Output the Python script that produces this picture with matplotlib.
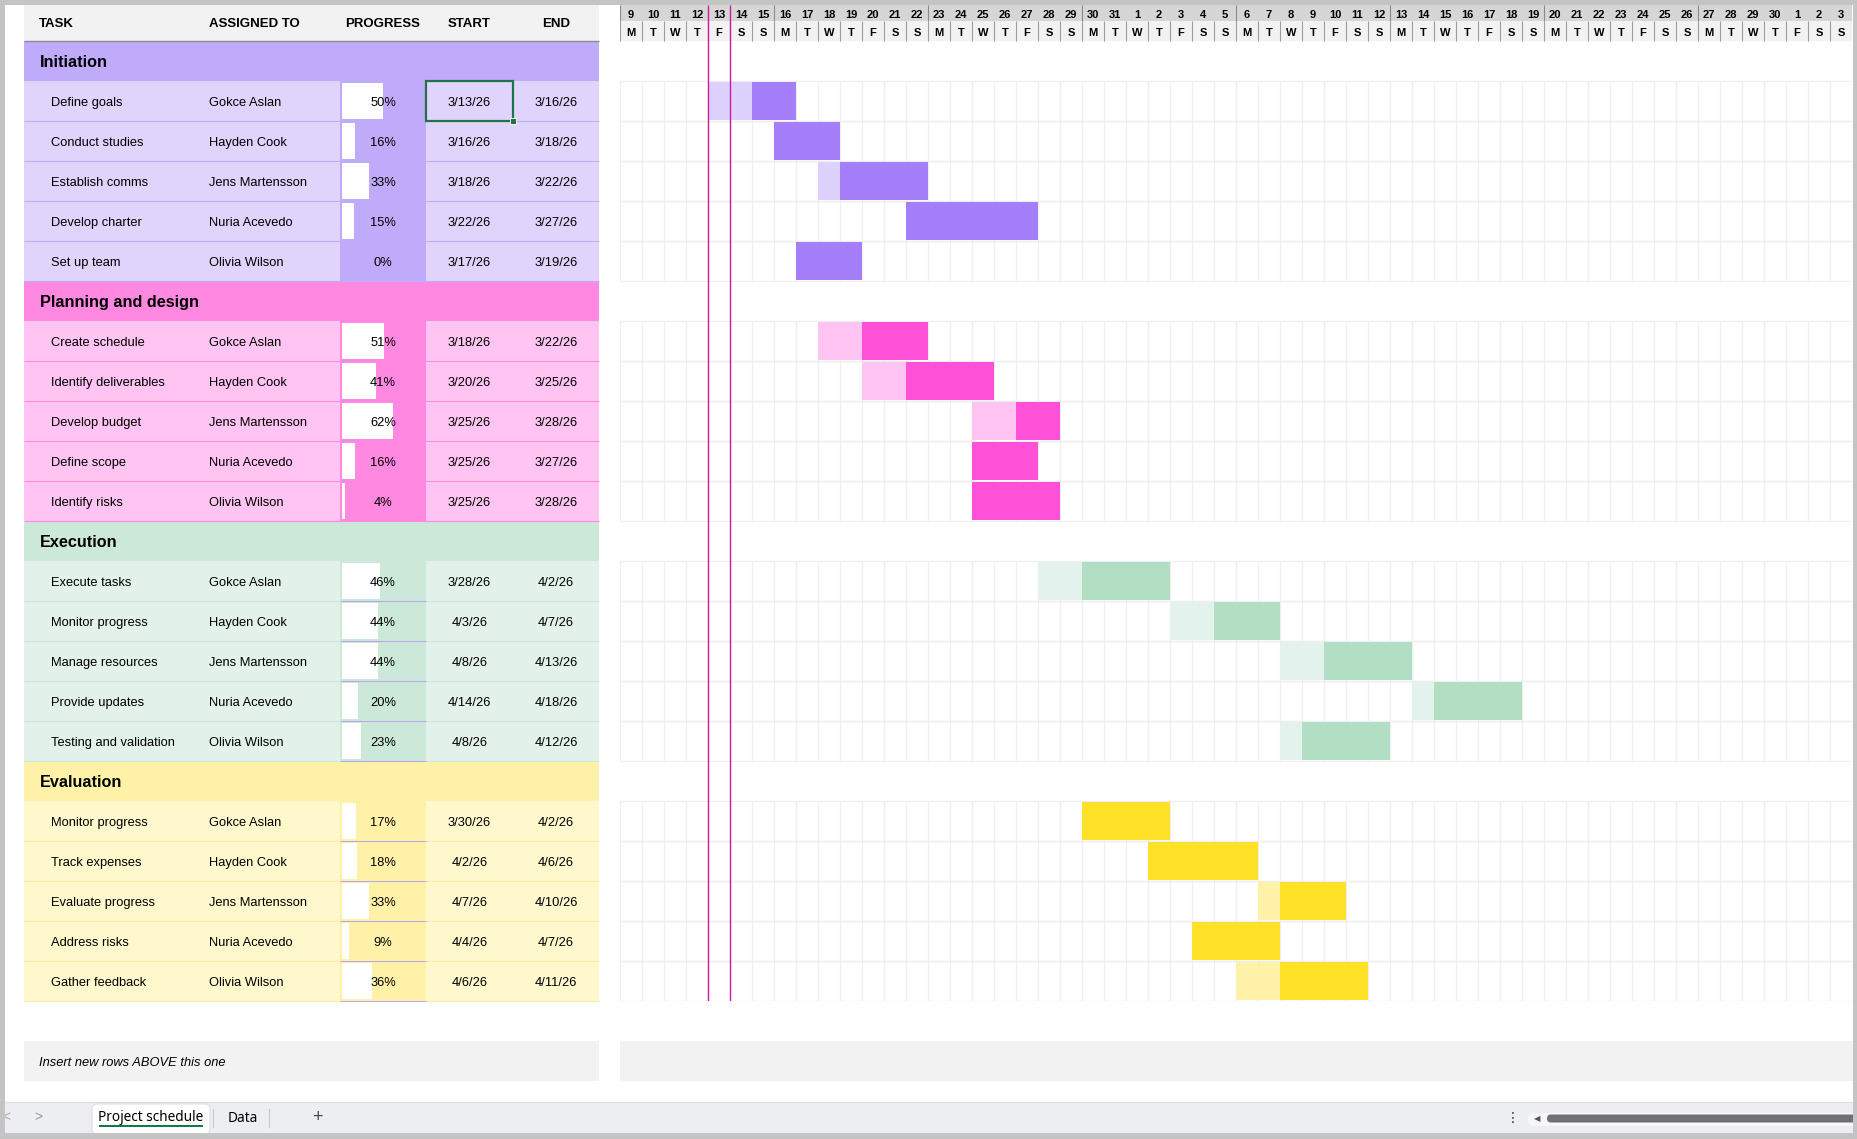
import numpy as np
import pandas as pd
import matplotlib
matplotlib.use('Agg')
import matplotlib.pyplot as plt
import matplotlib.dates as mdates
from matplotlib.patches import Rectangle, FancyBboxPatch

plt.rcParams['font.family'] = ['Liberation Sans', 'DejaVu Sans']

# Schedule data
groups = ['Initiation', 'Planning and design', 'Execution', 'Evaluation']
task_group = [0, 0, 0, 0, 0, 1, 1, 1, 1, 1, 2, 2, 2, 2, 2, 3, 3, 3, 3, 3]
tasks = ['Define goals', 'Conduct studies', 'Establish comms', 'Develop charter', 'Set up team',
         'Create schedule', 'Identify deliverables', 'Develop budget', 'Define scope', 'Identify risks',
         'Execute tasks', 'Monitor progress', 'Manage resources', 'Provide updates', 'Testing and validation',
         'Monitor progress', 'Track expenses', 'Evaluate progress', 'Address risks', 'Gather feedback']
assigned = ['Gokce Aslan', 'Hayden Cook', 'Jens Martensson', 'Nuria Acevedo', 'Olivia Wilson'] * 4
progress = [50, 16, 33, 15, 0,
            51, 41, 62, 16, 4,
            46, 44, 44, 20, 23,
            17, 18, 33, 9, 36]
start_dates = ['3/13/26', '3/16/26', '3/18/26', '3/22/26', '3/17/26',
               '3/18/26', '3/20/26', '3/25/26', '3/25/26', '3/25/26',
               '3/28/26', '4/3/26', '4/8/26', '4/14/26', '4/8/26',
               '3/30/26', '4/2/26', '4/7/26', '4/4/26', '4/6/26']
end_dates = ['3/16/26', '3/18/26', '3/22/26', '3/27/26', '3/19/26',
             '3/22/26', '3/25/26', '3/28/26', '3/27/26', '3/28/26',
             '4/2/26', '4/7/26', '4/13/26', '4/18/26', '4/12/26',
             '4/2/26', '4/6/26', '4/10/26', '4/7/26', '4/11/26']
timeline_start = '3/9/26'
n_days = 56
today = '3/13/26'

# Colours per group
head_colors = ['#c0aafa', '#ff88e0', '#cce8d8', '#fff2a8']
row_colors = ['#e0d4fd', '#ffc4f2', '#e2f2ea', '#fff8cc']
bar_dark = ['#a57ffa', '#ff50d8', '#b2dfc4', '#ffe128']
bar_light = ['#ddd1fd', '#ffc4f2', '#e3f2ec', '#fff2a8']
line_colors = ['#c0aafa', '#ff88e0', '#cce8d8', '#fbeaa0']

W, H = 1858, 1139
ROW_H = 40
TOP = 41
TX0, TX1 = 24, 599
PX0, PX1 = 340, 426
SX1 = 513
GX0, GX1 = 620, 1852

fig = plt.figure(figsize=(W / 100, H / 100), dpi=100)
ax = fig.add_axes([0, 0, 1, 1])
ax.set_xlim(0, W)
ax.set_ylim(H, 0)
ax.axis('off')


def rect(x0, y0, x1, y1, color, z=1):
    ax.add_patch(Rectangle((x0, y0), x1 - x0, y1 - y0, facecolor=color, edgecolor='none', zorder=z))


def hline(y, x0, x1, color, lw=0.75, z=2):
    ax.plot([x0, x1], [y, y], color=color, lw=lw, zorder=z, solid_capstyle='butt')


# Table header
rect(TX0, 5, TX1, TOP, '#f2f2f2')
hline(TOP, TX0, TX1, '#8c8c8c', lw=1)
hdr = dict(fontsize=9.5, weight='bold', va='baseline', zorder=5)
ax.text(39, 27, 'TASK', ha='left', **hdr)
ax.text(209, 27, 'ASSIGNED TO', ha='left', **hdr)
ax.text((PX0 + PX1) / 2, 27, 'PROGRESS', ha='center', **hdr)
ax.text((PX1 + SX1) / 2, 27, 'START', ha='center', **hdr)
ax.text((SX1 + TX1) / 2, 27, 'END', ha='center', **hdr)

# Gantt axes, x in dates
d0 = mdates.date2num(pd.to_datetime(timeline_start, format='%m/%d/%y'))
days = pd.date_range(pd.to_datetime(timeline_start, format='%m/%d/%y'), periods=n_days)
axg = fig.add_axes([GX0 / W, 1 - 1001 / H, (GX1 - GX0) / W, (1001 - 5) / H])
axg.set_xlim(d0, d0 + n_days)
axg.set_ylim(1001, 5)
axg.axis('off')
axg.patch.set_alpha(0)

# Date header
axg.add_patch(Rectangle((d0, 5), n_days, 16, facecolor='#d6d6d6', edgecolor='none'))
axg.add_patch(Rectangle((d0, 21), n_days, 20, facecolor='#f2f2f2', edgecolor='none'))
xs = d0 + np.arange(n_days + 1)
axg.vlines(xs, 21, 41, color='#9e9e9e', lw=0.8)
for d in days:
    x = mdates.date2num(d)
    if d.weekday() == 0:
        axg.vlines(x, 5, 21, color='#8a8a8a', lw=0.8)
    axg.text(x + 0.5, 17.5, str(d.day), ha='center', va='baseline', fontsize=8, weight='bold')
    axg.text(x + 0.5, 35.5, 'MTWTFSS'[d.weekday()], ha='center', va='baseline', fontsize=8, weight='bold')

# Rows
starts = pd.to_datetime(start_dates, format='%m/%d/%y')
ends = pd.to_datetime(end_dates, format='%m/%d/%y')
row = 0
for g, name in enumerate(groups):
    top = TOP + row * ROW_H
    rect(TX0, top, TX1, top + ROW_H, head_colors[g])
    ax.text(40, top + 26, name, fontsize=11.7, weight='bold', va='baseline', zorder=5)
    row += 1
    for i in [k for k in range(len(tasks)) if task_group[k] == g]:
        top = TOP + row * ROW_H
        rect(TX0, top, PX0, top + ROW_H, row_colors[g])
        rect(PX0, top, PX1, top + ROW_H, head_colors[g])
        rect(PX1, top, TX1, top + ROW_H, row_colors[g])
        hline(top + ROW_H, TX0, TX1, line_colors[g])
        if g >= 2:
            hline(top + ROW_H, PX0, PX1, '#b9a8ec', z=3)
        # progress data bar
        if progress[i] > 0:
            rect(PX0 + 2, top + 2, PX0 + 2 + 82 * progress[i] / 100, top + ROW_H - 2, 'white', z=2)
        yb = top + 25
        txt = dict(fontsize=9.3, va='baseline', zorder=5)
        ax.text(51, yb, tasks[i], ha='left', **txt)
        ax.text(209, yb, assigned[i], ha='left', **txt)
        ax.text((PX0 + PX1) / 2, yb, f'{progress[i]}%', ha='center', **txt)
        ax.text((PX1 + SX1) / 2, yb, start_dates[i], ha='center', **txt)
        ax.text((SX1 + TX1) / 2, yb, end_dates[i], ha='center', **txt)

        # gantt grid for this row
        axg.vlines(xs, top, top + ROW_H, color='#efefef', lw=0.9, zorder=1)
        axg.hlines([top, top + ROW_H], d0, d0 + n_days, color='#efefef', lw=0.9, zorder=1)
        s = mdates.date2num(starts[i])
        dur = (ends[i] - starts[i]).days + 1
        done = dur * progress[i] // 100
        if done > 0:
            axg.barh(top + 0.6, done, left=s, height=ROW_H - 1.2, align='edge', color=bar_light[g], zorder=2)
        axg.barh(top + 0.6, dur - done, left=s + done, height=ROW_H - 1.2, align='edge', color=bar_dark[g], zorder=2)
        row += 1

# Today markers
t = mdates.date2num(pd.to_datetime(today, format='%m/%d/%y'))
axg.vlines([t, t + 1], 5, 1001, color='#d0189e', lw=1, zorder=4)

# Selected cell
ax.add_patch(Rectangle((PX1, TOP + ROW_H), SX1 - PX1, ROW_H, facecolor='none',
                       edgecolor='#217346', lw=1.6, zorder=6))
ax.add_patch(Rectangle((SX1 - 3, TOP + 2 * ROW_H - 3), 6, 6, facecolor='#217346',
                       edgecolor='white', lw=0.6, zorder=7))

# Insert row
rect(TX0, 1041, TX1, 1081, '#f2f2f2')
rect(GX0, 1041, 1853, 1081, '#f2f2f2')
ax.text(39, 1066, 'Insert new rows ABOVE this one', fontsize=9.3, style='italic', va='baseline', zorder=5)

# Sheet tab bar
rect(5, 1102, 1853, 1133, '#eceef1')
hline(1102, 5, 1853, '#dcdcdc')
ax.add_patch(FancyBboxPatch((92, 1104), 118, 30, boxstyle='round,pad=0,rounding_size=5',
                            facecolor='white', edgecolor='#d8d8d8', lw=0.6, zorder=2))
ax.text(151, 1121, 'Project schedule', ha='center', va='baseline', fontsize=9.8,
        family=['Noto Sans', 'DejaVu Sans'], weight='semibold', zorder=5)
rect(99, 1125, 203, 1127, '#107c41', z=5)
ax.text(243, 1122.5, 'Data', ha='center', va='baseline', fontsize=9.8, family=['Noto Sans', 'DejaVu Sans'], zorder=5)
ax.plot([213, 213], [1109, 1127], color='#c8c8c8', lw=0.8, zorder=5)
ax.plot([269, 269], [1109, 1127], color='#c8c8c8', lw=0.8, zorder=5)
ax.text(317, 1117, '+', ha='center', va='center', fontsize=13, color='#444444', zorder=5)
ax.text(6, 1117, '<', ha='center', va='center', fontsize=10, color='#aaaaaa', zorder=5)
ax.text(38, 1117, '>', ha='center', va='center', fontsize=10, color='#999999', zorder=5)
ax.text(1513, 1118, '\u22ee', ha='center', va='center', fontsize=10, color='#333333',
        family=['DejaVu Sans'], zorder=5)
ax.add_patch(FancyBboxPatch((1528, 1113), 330, 13, boxstyle='round,pad=0,rounding_size=6',
                            facecolor='#f7f7f7', edgecolor='none', zorder=2))
ax.add_patch(FancyBboxPatch((1547, 1114.5), 310, 8, boxstyle='round,pad=0,rounding_size=4',
                            facecolor='#707070', edgecolor='none', zorder=3))
ax.text(1537, 1118.5, '\u25c0', ha='center', va='center', fontsize=6, color='#555555',
        family=['DejaVu Sans'], zorder=5)

# Window frame
frame = '#c4c4c4'
rect(0, 0, W, 5, frame, z=10)
rect(0, 0, 5, H, frame, z=10)
rect(1853, 0, W, H, frame, z=10)
rect(0, 1133, W, H, frame, z=10)

fig.savefig('out.png', dpi=100, facecolor='white')
